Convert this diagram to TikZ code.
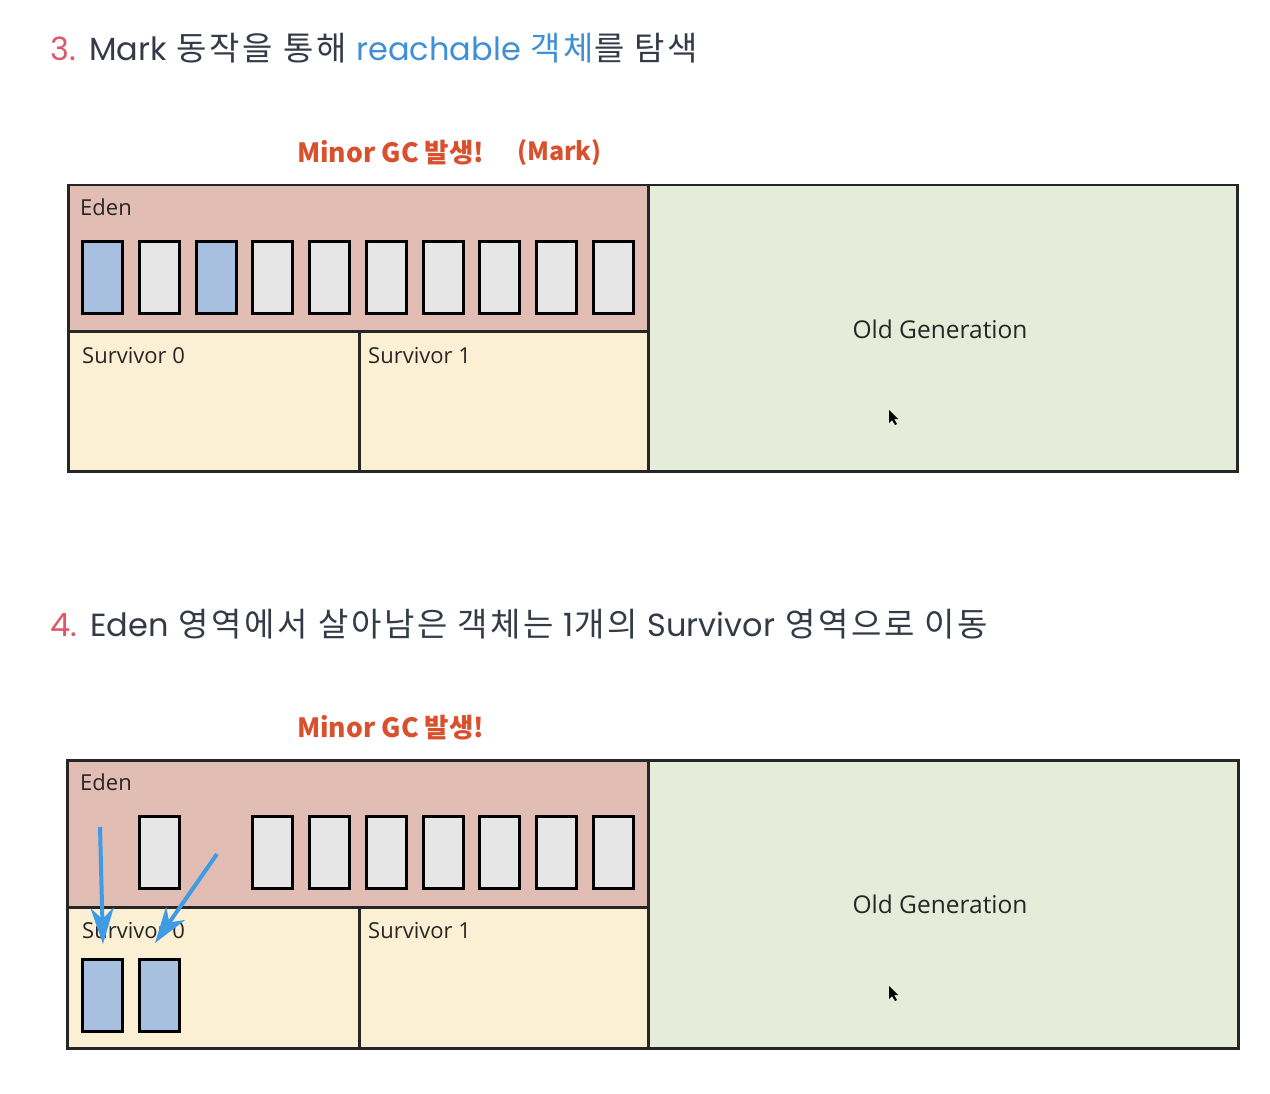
\documentclass[tikz,border=0pt]{standalone}
\usepackage{fontspec}
\setmainfont{Open Sans}
\newfontfamily\kr[LetterSpace=8]{Noto Sans CJK KR}
\newfontfamily\krb{Noto Sans CJK KR}
\newfontfamily\lat{Poppins}
\usetikzlibrary{arrows.meta}
\definecolor{edenc}{HTML}{E2BDB4}
\definecolor{survc}{HTML}{FCF0D4}
\definecolor{oldc}{HTML}{E5ECDA}
\definecolor{objg}{HTML}{E6E6E6}
\definecolor{objb}{HTML}{A8C0E0}
\definecolor{redt}{HTML}{D9502C}
\definecolor{numr}{HTML}{E05567}
\definecolor{txt}{HTML}{343A46}
\definecolor{bluet}{HTML}{3E8FD6}
\definecolor{arrowc}{HTML}{3F9BE3}
\newcommand{\latw}[1]{{\lat\fontsize{32}{38}\selectfont #1}}
\tikzset{
  region/.style={draw=black!85, line width=2.5pt, inner sep=0pt, anchor=north west},
  obj/.style={draw=black, line width=3pt, minimum width=40pt, minimum height=72pt, inner sep=0pt},
  gobj/.style={obj, fill=objg},
  bobj/.style={obj, fill=objb},
  lbl/.style={anchor=west, inner sep=0pt, font=\fontsize{22}{26}\selectfont, text=black!85},
  oldlbl/.style={inner sep=0pt, font=\fontsize{24.5}{28}\selectfont, text=black!85},
  heading/.style={anchor=west, inner sep=0pt, font=\kr\fontsize{33}{39}\selectfont, text=txt},
  gclbl/.style={anchor=west, inner sep=0pt, font=\krb\bfseries\fontsize{26.5}{30}\selectfont, text=redt},
  marklbl/.style={anchor=west, inner sep=0pt, font=\krb\bfseries\fontsize{25}{30}\selectfont, text=redt},
  arr/.style={draw=arrowc, line width=4pt, -{Stealth[length=36pt,width=23pt,inset=11pt]}},
}
\begin{document}
\begin{tikzpicture}[x=1pt,y=-1pt]
\useasboundingbox[fill=white] (0,0) rectangle (1270,1094);

% ---------- section 3 ----------
\node[heading] (h3) at (50,48) {{\color{numr}\latw{3.}} \latw{Mark} 동작을 통해 {\color{bluet}\latw{reachable} 객체}를 탐색};
\node[gclbl] (gc1) at (297,153) {Minor GC 발생!};
\node[marklbl] (mark1) at (517,153) {(Mark)};

\node[region, fill=edenc, minimum width=580pt, minimum height=146pt] (eden1) at (67,184) {};
\node[region, fill=survc, minimum width=291pt, minimum height=140pt] (s0a) at (67,330) {};
\node[region, fill=survc, minimum width=289pt, minimum height=140pt] (s1a) at (358,330) {};
\node[region, fill=oldc, minimum width=589pt, minimum height=286pt] (old1) at (647,184) {};

\foreach \i/\s in {0/bobj,1/gobj,2/bobj,3/gobj,4/gobj,5/gobj,6/gobj,7/gobj,8/gobj,9/gobj}{
  \node[\s] (e1o\i) at ({102.5+56.78*\i},277.5) {};
}

\node[lbl] (eden1l) at (80,207) {Eden};
\node[lbl] (s0al) at (82,356) {Survivor 0};
\node[lbl] (s1al) at (368,356) {Survivor 1};
\node[oldlbl] (old1l) at (940,329) {Old Generation};
\fill[black] (889,410) -- (889,423) -- (892,420) -- (895,425) -- (897,424) -- (894,419) -- (898,419) -- cycle;

% ---------- section 4 ----------
\node[heading] (h4) at (50,624) {{\color{numr}\latw{4.}} \latw{Eden} 영역에서 살아남은 객체는 \latw{1}개의 \latw{Survivor} 영역으로 이동};
\node[gclbl] (gc2) at (297,728) {Minor GC 발생!};

\node[region, fill=edenc, minimum width=581pt, minimum height=147pt] (eden2) at (66,759) {};
\node[region, fill=survc, minimum width=292pt, minimum height=141pt] (s0b) at (66,906) {};
\node[region, fill=survc, minimum width=289pt, minimum height=141pt] (s1b) at (358,906) {};
\node[region, fill=oldc, minimum width=590pt, minimum height=288pt] (old2) at (647,759) {};

\foreach \i in {1,3,4,5,6,7,8,9}{
  \node[gobj] (e2o\i) at ({102.5+56.78*\i},852.5) {};
}
\node[bobj] (sv1) at (102,995.5) {};
\node[bobj] (sv2) at (159,995.5) {};

\node[lbl] (eden2l) at (80,782) {Eden};
\node[lbl] (s0bl) at (82,931) {Survivor 0};
\node[lbl] (s1bl) at (368,931) {Survivor 1};
\node[oldlbl] (old2l) at (940,904) {Old Generation};
\fill[black] (889,986) -- (889,999) -- (892,996) -- (895,1001) -- (897,1000) -- (894,995) -- (898,995) -- cycle;

\coordinate (a1s) at (100,827);
\coordinate (a1e) at (103,944);
\coordinate (a2s) at (217,854);
\coordinate (a2e) at (155,943);
\draw[arr] (a1s) -- (a1e);
\draw[arr] (a2s) -- (a2e);
\end{tikzpicture}
\end{document}
